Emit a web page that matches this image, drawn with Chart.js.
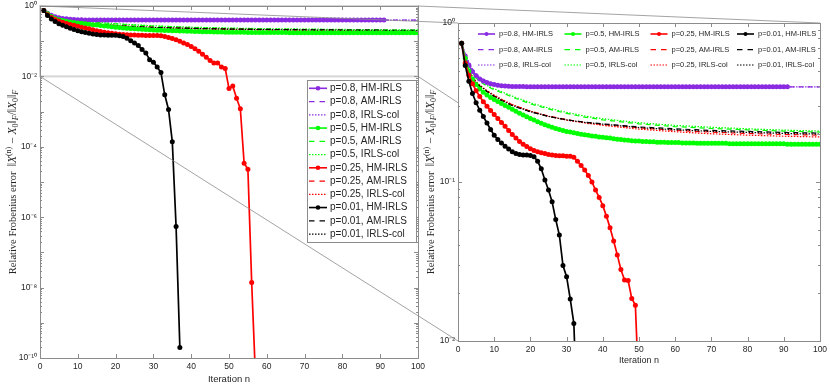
<!DOCTYPE html>
<html>
<head>
<meta charset="utf-8">
<script src="https://cdn.jsdelivr.net/npm/chart.js@4.4.1/dist/chart.umd.min.js"></script>
<style>
  html, body { margin: 0; padding: 0; background: #fff; }
  #wrap { position: relative; width: 830px; height: 386px; }
  #wrap canvas { position: absolute; left: 0; top: 0; }
</style>
</head>
<body>
<div id="wrap">
  <canvas id="left" width="830" height="386"></canvas>
  <canvas id="links" width="830" height="386"></canvas>
  <canvas id="right" width="830" height="386"></canvas>
</div>
<script>
// HM-IRLS runs, one value per iteration n = 1, 2, ...
const hm08 = [
  0.745,0.62,0.545,0.495,0.465,0.445,0.432,0.422,0.415,0.41,
  0.406,0.403,0.401,0.4,0.399,0.398,0.398,0.398,0.397,0.397,
  0.397,0.397,0.397,0.397,0.397,0.397,0.397,0.397,0.397,0.397,
  0.397,0.397,0.397,0.397,0.397,0.397,0.397,0.397,0.397,0.397,
  0.397,0.397,0.397,0.397,0.397,0.397,0.397,0.397,0.397,0.397,
  0.397,0.397,0.397,0.397,0.397,0.397,0.397,0.397,0.397,0.397,
  0.397,0.397,0.397,0.397,0.397,0.397,0.397,0.397,0.397,0.397,
  0.397,0.397,0.397,0.397,0.397,0.397,0.397,0.397,0.397,0.397,
  0.397,0.397,0.397,0.397,0.397,0.397,0.397,0.397,0.397,0.397,
  0.397
];
const hm05 = [
  0.745,0.6,0.5,0.445,0.41,0.385,0.367,0.352,0.34,0.33,
  0.321,0.312,0.303,0.295,0.287,0.279,0.271,0.264,0.257,0.251,
  0.245,0.239,0.234,0.229,0.225,0.221,0.217,0.214,0.211,0.208,
  0.206,0.204,0.202,0.2,0.198,0.197,0.195,0.194,0.192,0.191,
  0.19,0.189,0.187,0.186,0.185,0.184,0.183,0.182,0.181,0.181,
  0.18,0.18,0.179,0.179,0.178,0.178,0.178,0.177,0.177,0.177,
  0.177,0.176,0.176,0.176,0.176,0.175,0.175,0.175,0.175,0.175,
  0.175,0.175,0.175,0.175,0.174,0.174,0.174,0.174,0.174,0.174,
  0.174,0.174,0.174,0.174,0.174,0.174,0.174,0.174,0.174,0.174,
  0.173,0.173,0.173,0.173,0.173,0.173,0.173,0.173,0.173,0.173
];
const hm025 = [
  0.745,0.56,0.47,0.415,0.375,0.345,0.32,0.3,0.282,0.266,
  0.251,0.237,0.224,0.211,0.199,0.189,0.18,0.173,0.167,0.162,
  0.158,0.155,0.153,0.151,0.149,0.148,0.147,0.146,0.146,0.145,
  0.145,0.143,0.135,0.127,0.119,0.11,0.1,0.089,0.08,0.071,
  0.061,0.0515,0.0426,0.0348,0.0282,0.0242,0.024,0.0185,0.0168,0.0045,
  0.0053,0.0024,0.0012,3.4e-5,2.3e-5,1.4e-8,3e-11
];
const hm001 = [
  0.745,0.54,0.43,0.36,0.315,0.283,0.258,0.235,0.214,0.197,
  0.185,0.176,0.168,0.161,0.155,0.151,0.149,0.148,0.148,0.147,
  0.144,0.135,0.121,0.103,0.089,0.075,0.058,0.0464,0.0298,0.0254,
  0.0184,0.0129,0.003,0.00115,1.4e-4,5.4e-7,2e-10
];

// AM-IRLS and IRLS-col runs, read at these iterations
const sparseN = [1,2,3,4,5,6,8,10,12,15,20,25,30,35,40,50,60,70,80,90,100];
const am08  = [0.745,0.63,0.555,0.505,0.472,0.45,0.426,0.413,0.405,0.4,0.398,0.397,0.397,0.397,0.397,0.397,0.397,0.397,0.397,0.397,0.397];
const col08 = [0.745,0.64,0.565,0.512,0.478,0.455,0.43,0.416,0.407,0.401,0.398,0.397,0.397,0.397,0.397,0.397,0.397,0.397,0.397,0.397,0.397];
const am05  = [0.745,0.61,0.53,0.48,0.45,0.43,0.4,0.38,0.365,0.342,0.31,0.288,0.27,0.256,0.246,0.232,0.223,0.217,0.213,0.209,0.206];
const col05 = [0.745,0.615,0.535,0.485,0.455,0.435,0.405,0.385,0.37,0.347,0.315,0.292,0.274,0.26,0.25,0.236,0.227,0.221,0.216,0.212,0.209];
const am025 = [0.745,0.585,0.505,0.455,0.424,0.403,0.373,0.349,0.33,0.306,0.279,0.26,0.247,0.237,0.23,0.219,0.211,0.206,0.202,0.199,0.197];
const col025= [0.745,0.59,0.51,0.46,0.428,0.407,0.376,0.352,0.332,0.307,0.279,0.259,0.245,0.235,0.227,0.215,0.207,0.201,0.197,0.194,0.192];
const am001 = [0.745,0.58,0.5,0.45,0.42,0.4,0.37,0.345,0.325,0.302,0.276,0.258,0.246,0.238,0.232,0.222,0.216,0.211,0.208,0.205,0.203];
const col001= [0.745,0.585,0.505,0.455,0.424,0.403,0.372,0.347,0.327,0.303,0.277,0.259,0.246,0.237,0.231,0.22,0.213,0.208,0.205,0.202,0.2];

const pLabels = ["0.8", "0.5", "0.25", "0.01"];
const methods = ["HM-IRLS", "AM-IRLS", "IRLS-col"];
const colors = ["#8a2be2", "#00ff00", "#ff0000", "#000000"];
const yTicksLeft = [1e-10, 1e-8, 1e-6, 1e-4, 1e-2, 1];
const yTicksRight = [1e-2, 1e-1, 1];

const hmRuns = [hm08, hm05, hm025, hm001];
const amRuns = [am08, am05, am025, am001];
const colRuns = [col08, col05, col025, col001];

const SANS = '"Liberation Sans", Arial, sans-serif';
const SERIF = '"Liberation Serif", "DejaVu Serif", serif';
const INK = "#262626";
const FRAME = "#8c8c8c";
const DASH = [[], [5, 4], [1.5, 1.5]];

const SUP = {"-": "\u207B", "0": "\u2070", "1": "\u00B9", "2": "\u00B2", "3": "\u00B3", "4": "\u2074",
             "5": "\u2075", "6": "\u2076", "7": "\u2077", "8": "\u2078", "9": "\u2079"};
const logLabel = (v) => "10" + String(Math.round(Math.log10(v))).split("").map((c) => SUP[c]).join("");

function buildDatasets() {
  const sets = [];
  // HM on top: chart.js paints index 0 last
  [3, 2, 1, 0].forEach((i) => sets.push({
    data: hmRuns[i].map((v, k) => ({x: k + 1, y: v})),
    borderColor: colors[i], backgroundColor: colors[i],
    pointBackgroundColor: colors[i], pointBorderWidth: 0, pointRadius: 2.5,
    borderWidth: 1.7, clip: 0,
  }));
  [3, 2, 1, 0].forEach((i) => {
    [colRuns, amRuns].forEach((runs, m) => sets.push({
      data: runs[i].map((v, k) => ({x: sparseN[k], y: v})),
      borderColor: colors[i], borderDash: m === 0 ? DASH[2] : DASH[1],
      borderWidth: 1.2, pointRadius: 0, clip: 0,
    }));
  });
  return sets;
}

function scales(yMin, yTicks, titleSize, xHeight) {
  return {
    x: {
      type: "linear", min: 0, max: 100,
      grid: {display: false, drawTicks: false}, border: {display: false},
      ticks: {stepSize: 10, autoSkip: false, maxRotation: 0, color: INK, padding: 4,
              font: {family: SANS, size: 8.5}},
      title: {display: true, text: "Iteration n", color: INK, padding: {top: 0, bottom: 1},
              font: {family: SANS, size: titleSize}},
      afterFit: (a) => { a.height = xHeight; a.paddingLeft = 0; a.paddingRight = 0; },
    },
    y: {
      type: "logarithmic", min: yMin, max: 1,
      grid: {display: false, drawTicks: false}, border: {display: false},
      afterBuildTicks: (a) => { a.ticks = yTicks.map((v) => ({value: v})); },
      ticks: {autoSkip: false, color: INK, padding: 3, callback: (v) => logLabel(v),
              font: {family: SANS, size: 8.5}},
      afterFit: (a) => { a.width = 40; a.paddingTop = 0; a.paddingBottom = 0; },
    },
  };
}

function drawFrame(chart) {
  const {ctx, chartArea: ca, scales: {x, y}} = chart;
  ctx.save();
  ctx.strokeStyle = FRAME;
  ctx.lineWidth = 1;
  ctx.setLineDash([]);
  ctx.beginPath();
  for (let v = 0; v <= 100; v += 10) {
    const px = Math.round(x.getPixelForValue(v)) + 0.5;
    ctx.moveTo(px, ca.bottom); ctx.lineTo(px, ca.bottom - 4);
    ctx.moveTo(px, ca.top); ctx.lineTo(px, ca.top + 4);
  }
  const e0 = Math.round(Math.log10(y.min)), e1 = Math.round(Math.log10(y.max));
  for (let e = e0; e <= e1; e++) {
    for (let m = 1; m <= 9; m++) {
      const v = m * Math.pow(10, e);
      if (v > y.max * 1.0001) break;
      const py = Math.round(y.getPixelForValue(v)) + 0.5;
      const len = m === 1 ? 4 : 2;
      ctx.moveTo(ca.left, py); ctx.lineTo(ca.left + len, py);
      ctx.moveTo(ca.right, py); ctx.lineTo(ca.right - len, py);
    }
  }
  ctx.stroke();
  ctx.strokeRect(Math.round(ca.left) + 0.5, Math.round(ca.top) + 0.5,
                 Math.round(ca.right - ca.left), Math.round(ca.bottom - ca.top));
  ctx.restore();
}

function drawYTitle(chart) {
  const {ctx, chartArea: ca} = chart;
  const parts = [
    {t: "Relative Frobenius error  ", s: 10.5},
    {t: "\u2016", s: 11.5}, {t: "X", s: 11.5, it: true}, {t: "(n)", s: 8, dy: -4.5},
    {t: " \u2212 ", s: 11.5}, {t: "X", s: 11.5, it: true}, {t: "0", s: 8, dy: 2.5},
    {t: "\u2016", s: 11.5}, {t: "F", s: 8, it: true, dy: 2.5}, {t: "/", s: 11.5},
    {t: "\u2016", s: 11.5}, {t: "X", s: 11.5, it: true}, {t: "0", s: 8, dy: 2.5},
    {t: "\u2016", s: 11.5}, {t: "F", s: 8, it: true, dy: 2.5},
  ];
  ctx.save();
  const fontOf = (p) => (p.it ? "italic " : "") + p.s + "px " + SERIF;
  let total = 0;
  parts.forEach((p) => { ctx.font = fontOf(p); p.w = ctx.measureText(p.t).width; total += p.w; });
  ctx.translate(ca.left - 28, (ca.top + ca.bottom) / 2);
  ctx.rotate(-Math.PI / 2);
  ctx.fillStyle = INK;
  ctx.textBaseline = "alphabetic";
  let cx = -total / 2;
  parts.forEach((p) => { ctx.font = fontOf(p); ctx.fillText(p.t, cx, 3.5 + (p.dy || 0)); cx += p.w; });
  ctx.restore();
}

function drawSample(ctx, x1, x2, y, m, color, r) {
  ctx.strokeStyle = color;
  ctx.fillStyle = color;
  ctx.lineWidth = m === 0 ? 1.6 : 1.2;
  ctx.setLineDash(m === 1 ? [5.5, 5] : DASH[m]);
  ctx.beginPath(); ctx.moveTo(x1, y); ctx.lineTo(x2, y); ctx.stroke();
  ctx.setLineDash([]);
  if (m === 0) { ctx.beginPath(); ctx.arc((x1 + x2) / 2, y, r, 0, Math.PI * 2); ctx.fill(); }
}

const leftDecor = {
  id: "leftDecor",
  beforeDatasetsDraw(chart) {
    // zoom window shown magnified on the right
    const {ctx, scales: {x, y}} = chart;
    const x0 = x.getPixelForValue(0), x1 = x.getPixelForValue(100);
    const y0 = y.getPixelForValue(1), y1 = y.getPixelForValue(1e-2);
    ctx.save();
    ctx.strokeStyle = "#d6d6d6"; ctx.lineWidth = 2;
    ctx.strokeRect(x0, y0, x1 - x0, y1 - y0);
    ctx.restore();
  },
  afterDraw(chart) {
    const {ctx, chartArea: ca} = chart;
    drawFrame(chart);
    drawYTitle(chart);
    const bx = ca.right - 111, by = ca.top + 74, bw = 109, bh = 162;
    ctx.save();
    ctx.fillStyle = "#fff"; ctx.fillRect(bx, by, bw, bh);
    ctx.strokeStyle = FRAME; ctx.lineWidth = 1;
    ctx.strokeRect(Math.round(bx) + 0.5, Math.round(by) + 0.5, bw, bh);
    ctx.font = "10px " + SANS;
    ctx.textBaseline = "middle";
    pLabels.forEach((p, i) => methods.forEach((name, m) => {
      const ry = by + 8.3 + (i * 3 + m) * 13.25;
      drawSample(ctx, bx + 2, bx + 20, ry, m, colors[i], 2.3);
      ctx.fillStyle = INK;
      ctx.fillText("p=" + p + ", " + name, bx + 23, ry);
    }));
    ctx.restore();
  },
};

const rightDecor = {
  id: "rightDecor",
  beforeDraw(chart) {
    const {ctx, chartArea: ca} = chart;
    ctx.save(); ctx.fillStyle = "#fff";
    ctx.fillRect(ca.left, ca.top, ca.right - ca.left, ca.bottom - ca.top);
    ctx.restore();
  },
  afterDraw(chart) {
    const {ctx, chartArea: ca} = chart;
    drawFrame(chart);
    drawYTitle(chart);
    const colX = [41, 127.5, 213.5, 300];
    const rowY = [11, 26.7, 42];
    ctx.save();
    ctx.font = "7.5px " + SANS;
    ctx.textBaseline = "middle";
    pLabels.forEach((p, i) => methods.forEach((name, m) => {
      const tx = ca.left + colX[i], ty = ca.top + rowY[m];
      drawSample(ctx, tx - 21, tx - 4, ty, m, colors[i], 2);
      ctx.fillStyle = INK;
      ctx.fillText("p=" + p + ", " + name, tx, ty);
    }));
    ctx.restore();
  },
};

const common = {responsive: false, animation: false, devicePixelRatio: 1,
                plugins: {legend: {display: false}, tooltip: {enabled: false}}};

const leftChart = new Chart(document.getElementById("left"), {
  type: "line",
  data: {datasets: buildDatasets()},
  options: Object.assign({}, common, {
    layout: {padding: {left: 0, top: 6, right: 412, bottom: 0}},
    scales: scales(1e-10, yTicksLeft, 9.5, 28),
  }),
  plugins: [leftDecor],
});

const rightChart = new Chart(document.getElementById("right"), {
  type: "line",
  data: {datasets: buildDatasets()},
  options: Object.assign({}, common, {
    layout: {padding: {left: 418, top: 23, right: 10, bottom: 19}},
    scales: scales(1e-2, yTicksRight, 9, 26),
  }),
  plugins: [rightDecor],
});

// magnifier connectors between the zoom window and the right axes
(function drawLinks() {
  const ctx = document.getElementById("links").getContext("2d");
  const L = leftChart.scales, R = rightChart.scales;
  const lx = [L.x.getPixelForValue(0), L.x.getPixelForValue(100)];
  const ly = [L.y.getPixelForValue(1), L.y.getPixelForValue(1e-2)];
  const rx = [R.x.getPixelForValue(0), R.x.getPixelForValue(100)];
  const ry = [R.y.getPixelForValue(1), R.y.getPixelForValue(1e-2)];
  ctx.strokeStyle = "#8c8c8c";
  ctx.lineWidth = 0.8;
  ctx.beginPath();
  [0, 1].forEach((a) => [0, 1].forEach((b) => {
    ctx.moveTo(lx[b], ly[a]); ctx.lineTo(rx[b], ry[a]);
  }));
  ctx.stroke();
})();
</script>
</body>
</html>
